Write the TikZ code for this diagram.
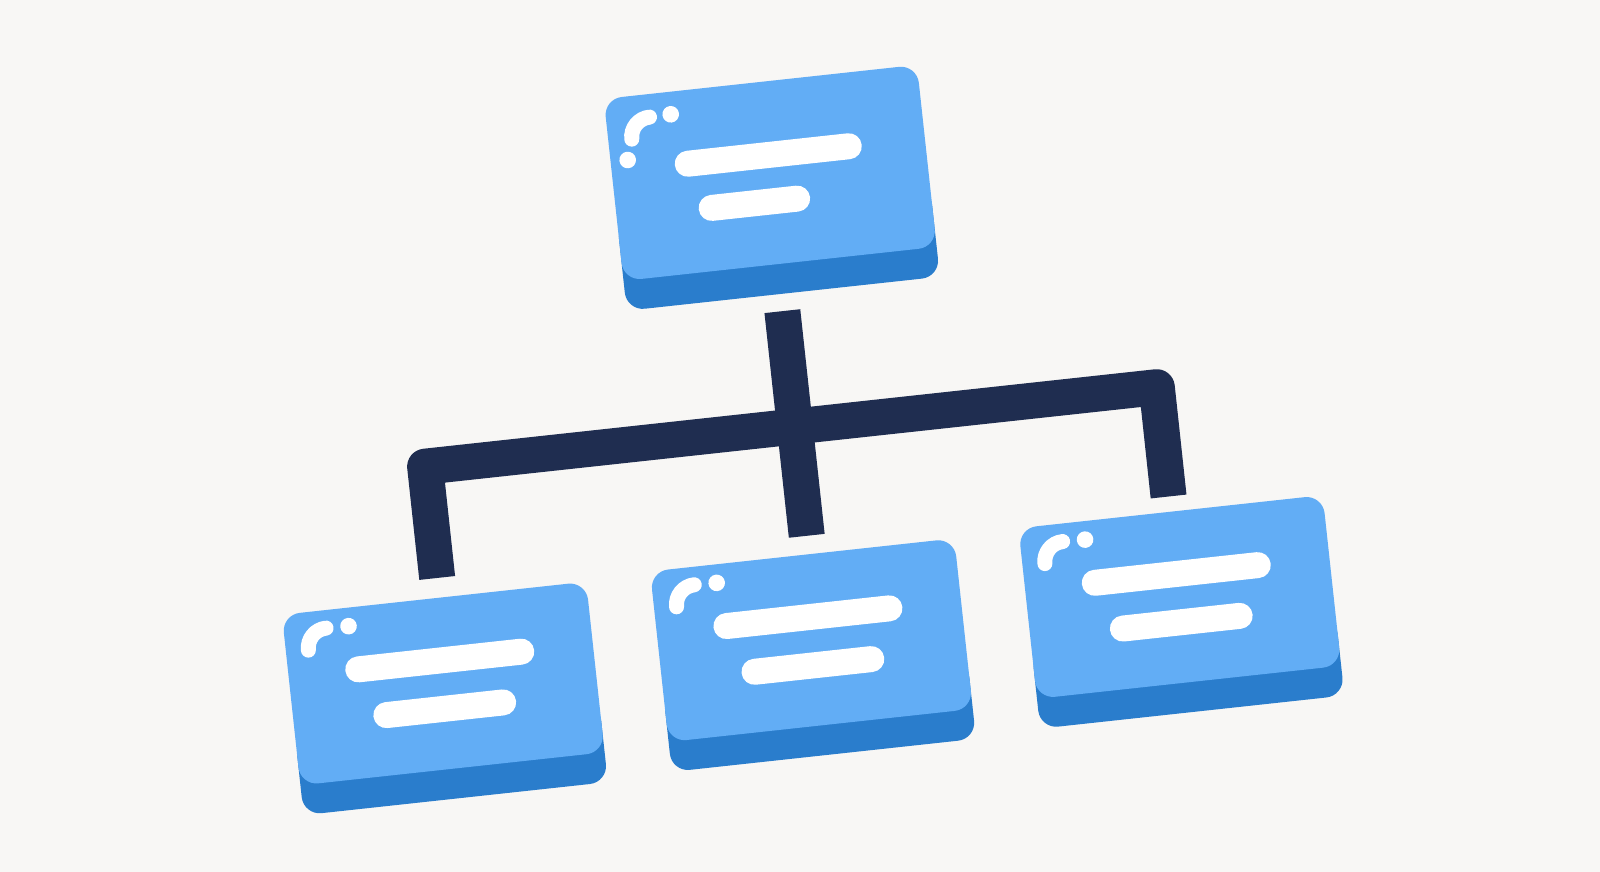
\documentclass[tikz,border=0pt]{standalone}
\usetikzlibrary{calc}
\definecolor{bg}{HTML}{F8F7F5}
\definecolor{face}{HTML}{62ADF5}
\definecolor{depth}{HTML}{2A7DCC}
\definecolor{navy}{HTML}{1F2D50}
\begin{document}
\begin{tikzpicture}[x=0.5pt,y=0.5pt,
  conn/.style={navy, line width=18pt, line cap=butt},
  bar/.style={white, line width=13pt, line cap=round},
  curl/.style={white, line width=7.5pt, line cap=round},
  facefill/.style={fill=face, rounded corners=9pt},
  depthfill/.style={fill=depth, rounded corners=9pt}]
\fill[bg] (0,0) rectangle (1600,-872);
\useasboundingbox (0,0) rectangle (1600,-872);
\begin{scope}[rotate around={6.2:(800,-436)}]
  % connector points
  \coordinate (stemtop) at (796,-310);
  \coordinate (stembot) at (796,-536);
  \coordinate (lbo) at (406,-538);
  \coordinate (lbi) at (442,-538);
  \coordinate (rbo) at (1178,-536);
  \coordinate (rbi) at (1142,-536);
  % bus with two drops (outer corners rounded, inner corners sharp)
  \fill[navy] (lbo) -- (406,-426) arc[start angle=180, end angle=90, radius=18]
     -- (1160,-408) arc[start angle=90, end angle=0, radius=18]
     -- (rbo) -- (rbi) -- (1142,-444) -- (442,-444) -- (lbi) -- cycle;
  \draw[conn] (stemtop) -- (stembot);
  % top card
  \begin{scope}[shift={(798.8,-162.7)}]
    \fill[depthfill] (-157.5,-130) rectangle (157.5,-40);
    \fill[facefill] (-157.5,-100) rectangle (157.5,83);
    \fill[white] (-92.6,60.5) circle[radius=8.3];
    \fill[white] (-140.3,19.7) circle[radius=8.3];
    \draw[curl] (-134,40) arc[start angle=180, end angle=90, radius=20];
    \draw[bar] (-81,9.5) -- (81,9.5);
    \draw[bar] (-62,-37) -- (24,-37);
  \end{scope}
  % bottom cards
  \foreach \cx/\cy in {418.6/-639.8, 789.3/-636.5, 1160.2/-633.3}{
    \begin{scope}[shift={(\cx,\cy)}]
      \fill[depthfill] (-153,-119.5) rectangle (153,-40);
      \fill[facefill] (-153,-89.5) rectangle (153,82);
      \fill[white] (-88,63.5) circle[radius=8.3];
      \draw[curl] (-130.5,44) arc[start angle=180, end angle=90, radius=20];
      \draw[bar] (-83,19.5) -- (81,19.5);
      \draw[bar] (-60,-29) -- (57.5,-29);
    \end{scope}
  }
\end{scope}
\end{tikzpicture}
\end{document}
